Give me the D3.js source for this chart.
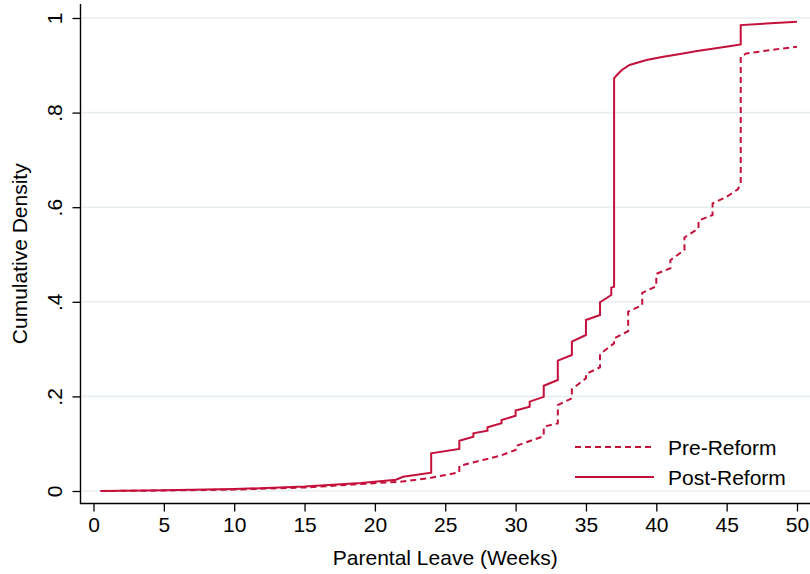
<!DOCTYPE html>
<html>
<head>
<meta charset="utf-8">
<script src="https://cdn.jsdelivr.net/npm/d3@7"></script>
<style>
  html, body { margin: 0; padding: 0; background: #fff; }
  svg { display: block; font-family: "Liberation Sans", Arial, Helvetica, sans-serif; }
</style>
</head>
<body>
<svg id="chart" width="810" height="574"></svg>
<script>
// Cumulative distribution of parental leave taken, before and after the reform.
// Each series is a list of [weeks, cumulative share]; repeated weeks mark the weekly jumps.
const preReform = [
  [0.5, 0.000], [5, 0.001], [10, 0.003], [15, 0.0074], [19, 0.0148], [21.8, 0.0197],
  [24, 0.028], [26, 0.0395], [26, 0.0529], [27.2, 0.062], [28.9, 0.0746],
  [30, 0.0867], [30, 0.0951], [31.9, 0.1148], [32, 0.117], [32, 0.136],
  [33, 0.143], [33, 0.1818], [34, 0.196], [34, 0.215], [35, 0.2383], [35, 0.2474],
  [36, 0.2615], [36, 0.2896], [36.9, 0.310], [37, 0.312], [37, 0.3228],
  [38, 0.338], [38, 0.379], [39, 0.393], [39, 0.419], [40, 0.433], [40, 0.459],
  [41, 0.471], [41, 0.488], [42, 0.5095], [42, 0.536], [43, 0.555], [43, 0.5715],
  [44, 0.5835], [44, 0.608], [45, 0.622], [45.8, 0.638], [46, 0.6505],
  [46, 0.918], [46.4, 0.925], [47.6, 0.930], [48.8, 0.935], [50, 0.939]
];

const postReform = [
  [0.5, 0.000], [5, 0.0015], [10, 0.004], [15, 0.0095], [19, 0.017], [21.5, 0.024],
  [22, 0.030], [24, 0.0387], [24, 0.0797], [26, 0.0888], [26, 0.1063],
  [27, 0.1148], [27, 0.122], [28, 0.1275], [28, 0.1347], [29, 0.1431], [29, 0.150],
  [30, 0.159], [30, 0.170], [31, 0.178], [31, 0.189], [32, 0.199], [32, 0.2226],
  [33, 0.2347], [33, 0.2755], [34, 0.2875], [34, 0.3156], [35, 0.3298], [35, 0.3615],
  [36, 0.3721], [36, 0.399], [36.8, 0.4144], [36.8, 0.430], [37, 0.432],
  [37, 0.8725], [37.2, 0.8795], [37.55, 0.890], [38.1, 0.9006], [39.3, 0.911],
  [40.5, 0.918], [41.7, 0.924], [42.9, 0.930], [44, 0.935], [45.3, 0.941],
  [46, 0.944], [46, 0.985], [50, 0.992]
];

const xTicks = [0, 5, 10, 15, 20, 25, 30, 35, 40, 45, 50];
const yTicks = [0, 0.2, 0.4, 0.6, 0.8, 1];
const yTickLabels = ["0", ".2", ".4", ".6", ".8", "1"];

const series = [
  { name: "Pre-Reform", values: preReform, dash: "6,4" },
  { name: "Post-Reform", values: postReform, dash: null }
];

const lineColor = "#c4103a";
const gridColor = "#e7eef1";

const svg = d3.select("#chart");

// Plot region edges
const plotLeft = 80.5, plotRight = 810, plotTop = 4, plotBottom = 503.5;

const x = d3.scaleLinear().domain([0, 50]).range([93.5, 797]);
const y = d3.scaleLinear().domain([0, 1]).range([491, 18]);

// Horizontal grid lines
svg.append("g")
  .selectAll("line")
  .data(yTicks)
  .join("line")
  .attr("x1", plotLeft + 1)
  .attr("x2", plotRight)
  .attr("y1", d => y(d))
  .attr("y2", d => y(d))
  .attr("stroke", gridColor)
  .attr("stroke-width", 1.6);

// Y axis
const yAxis = svg.append("g")
  .attr("transform", `translate(${plotLeft},0)`)
  .call(d3.axisLeft(y)
    .tickValues(yTicks)
    .tickSize(8)
    .tickFormat((d, i) => yTickLabels[i]));
yAxis.select(".domain").remove();
yAxis.selectAll(".tick line").attr("stroke", "#000").attr("stroke-width", 1.3);
yAxis.selectAll(".tick text")
  .attr("transform", "rotate(-90)")
  .attr("x", 0)
  .attr("y", -18.5)
  .attr("dy", 0)
  .attr("text-anchor", "middle")
  .attr("fill", "#000")
  .style("font-size", "21px");

// X axis
const xAxis = svg.append("g")
  .attr("transform", `translate(0,${plotBottom})`)
  .call(d3.axisBottom(x)
    .tickValues(xTicks)
    .tickSize(8)
    .tickPadding(4)
    .tickFormat(d3.format("d")));
xAxis.select(".domain").remove();
xAxis.selectAll(".tick line").attr("stroke", "#000").attr("stroke-width", 1.3);
xAxis.selectAll(".tick text")
  .attr("y", 28.5)
  .attr("dy", 0)
  .attr("fill", "#000")
  .style("font-size", "21px");

// Axis lines
svg.append("line")
  .attr("x1", plotLeft).attr("x2", plotLeft)
  .attr("y1", plotTop).attr("y2", plotBottom + 0.6)
  .attr("stroke", "#000").attr("stroke-width", 1.4);
svg.append("line")
  .attr("x1", plotLeft - 0.6).attr("x2", plotRight)
  .attr("y1", plotBottom).attr("y2", plotBottom)
  .attr("stroke", "#000").attr("stroke-width", 1.4);

// CDF lines
const line = d3.line()
  .x(d => x(d[0]))
  .y(d => y(d[1]));

svg.append("g")
  .selectAll("path")
  .data(series)
  .join("path")
  .attr("d", d => line(d.values))
  .attr("fill", "none")
  .attr("stroke", lineColor)
  .attr("stroke-width", 2)
  .attr("stroke-dasharray", d => d.dash)
  .attr("stroke-linejoin", "miter");

// Axis titles
svg.append("text")
  .attr("x", (plotLeft + plotRight) / 2)
  .attr("y", 565)
  .attr("text-anchor", "middle")
  .style("font-size", "21px")
  .attr("fill", "#000")
  .text("Parental Leave (Weeks)");

svg.append("text")
  .attr("transform", `translate(27,${(plotTop + plotBottom) / 2}) rotate(-90)`)
  .attr("text-anchor", "middle")
  .style("font-size", "21px")
  .attr("fill", "#000")
  .text("Cumulative Density");

// Legend
const legend = svg.append("g").attr("transform", "translate(575,447)");
const legendItems = legend.selectAll("g")
  .data(series)
  .join("g")
  .attr("transform", (d, i) => `translate(0,${i * 30})`);
legendItems.append("line")
  .attr("x1", 0).attr("x2", 79)
  .attr("y1", 0).attr("y2", 0)
  .attr("stroke", lineColor)
  .attr("stroke-width", 2)
  .attr("stroke-dasharray", d => d.dash);
legendItems.append("text")
  .attr("x", 93)
  .attr("y", 8)
  .style("font-size", "21px")
  .attr("fill", "#000")
  .text(d => d.name);
</script>
</body>
</html>
